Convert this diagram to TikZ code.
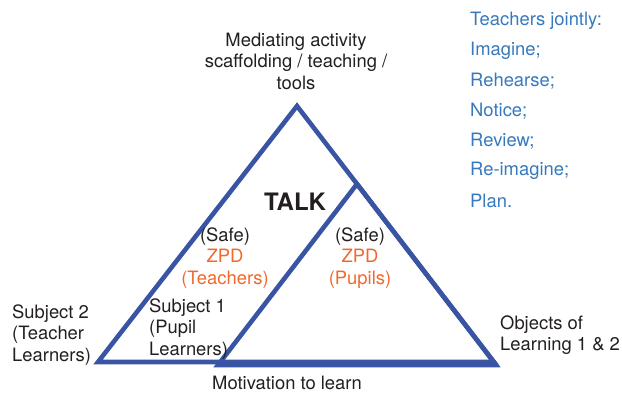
\documentclass[tikz,border=0pt]{standalone}
\usepackage{fontspec}
\setmainfont{TeX Gyre Heros}
\definecolor{triblue}{RGB}{57,84,163}
\definecolor{zpdorange}{RGB}{241,104,45}
\definecolor{listblue}{RGB}{54,121,190}
\definecolor{labelgray}{RGB}{35,31,32}
\begin{document}
\begin{tikzpicture}[x=1pt,y=-1pt,
  lbl/.style={text=labelgray,inner sep=0pt,font=\fontsize{18.4}{21.5}\selectfont},
  planitem/.style={text=listblue,anchor=west,inner sep=0pt,font=\fontsize{18.4}{21.5}\selectfont},
  triedge/.style={draw=triblue,line width=4.6pt}]
\useasboundingbox (0,0) rectangle (622,394);
\coordinate (teachtop) at (297,106);
\coordinate (teachleft) at (98,362);
\coordinate (teachright) at (494,362);
\coordinate (pupiltop) at (357,184);
\coordinate (pupilleft) at (218,365);
\coordinate (pupilright) at (496,365);
\draw[triedge] (teachtop) -- (teachleft) -- (teachright) -- cycle;
\draw[triedge] (pupiltop) -- (pupilleft) -- (pupilright) -- cycle;
\draw (296,61) node[lbl,align=center] (mediating) {Mediating activity\\scaffolding / teaching /\\tools};
\draw (295,202) node[lbl,font=\fontsize{24}{28}\selectfont\bfseries] (talk) {TALK};
\draw (225,258) node[lbl,align=center] (zpdteach) {(Safe)\\\textcolor{zpdorange}{ZPD}\\\textcolor{zpdorange}{(Teachers)}};
\draw (360,258) node[lbl,align=center] (zpdpupil) {(Safe)\\\textcolor{zpdorange}{ZPD}\\\textcolor{zpdorange}{(Pupils)}};
\draw (149,329) node[lbl,anchor=west,align=left] (subjone) {Subject 1\\(Pupil\\Learners)};
\draw (12,335) node[lbl,anchor=west,align=left] (subjtwo) {Subject 2\\(Teacher\\Learners)};
\draw (500,335) node[lbl,anchor=west,align=left] (objects) {Objects of\\Learning 1 \& 2};
\draw (287,383) node[lbl] (motivation) {Motivation to learn};
\draw (470,21) node[planitem] (jointly) {Teachers jointly:};
\draw (470,51) node[planitem] (imagine) {Imagine;};
\draw (470,81) node[planitem] (rehearse) {Rehearse;};
\draw (470,111) node[planitem] (notice) {Notice;};
\draw (470,141) node[planitem] (review) {Review;};
\draw (470,171) node[planitem] (reimagine) {Re-imagine;};
\draw (470,201) node[planitem] (plan) {Plan.};
\end{tikzpicture}
\end{document}
